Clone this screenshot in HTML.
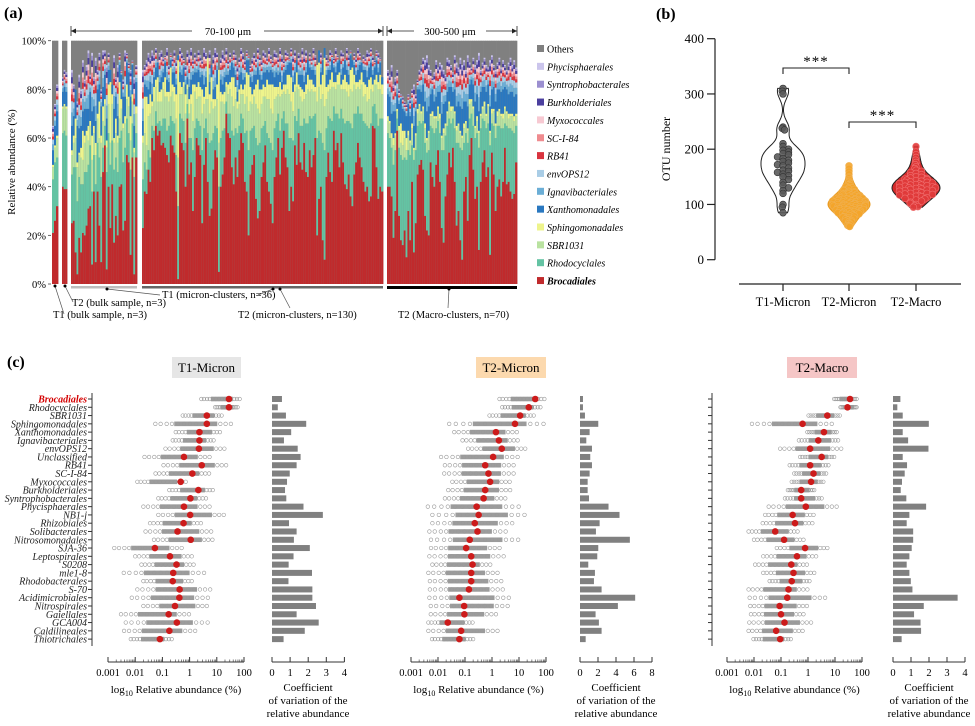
<!DOCTYPE html>
<html><head><meta charset="utf-8"><title>Figure</title>
<style>
html,body{margin:0;padding:0;background:#fff;}
svg{display:block;font-family:"Liberation Serif",serif;}
</style></head>
<body>
<svg id="fig" width="975" height="726" viewBox="0 0 975 726" xmlns="http://www.w3.org/2000/svg"></svg>
<script>
// ---------- Panel (a) data ----------
const groupSizes=[3,3,36,130,70];
const broc=[21,26,32, 40,39,39,
25,26,13,4,19,13,21,20,24,31,32,8,38,9,38,24,9,46,57,6,40,23,41,17,28,20,40,41,22,26,53,50,12,52,4,52,
23,38,37,47,42,60,55,65,61,63, 57,58,56,53,50,61,57,54,38,2, 62,58,55,40,68,45,50,30,44,60, 57,53,25,49,60,42,28,31,47,55, 52,5,40,45,52,70,62,60,48,41, 52,44,55,62,58,42,38,20,45,49, 53,35,27,30,44,50,57,42,38,33, 25,44,52,60,45,56,63,52,48,30, 40,34,57,49,62,50,47,58,46,44, 55,48,53,60,20,35,40,18,10,44, 54,46,42,63,55,58,48,62,50,41, 39,45,36,32,45,50,58,52,48,42, 38,40,34,36,65,64,48,35,40,38,
40,40,36,19,30,63,28,18,16,22, 11,30,18,42,13,25,45,49,51,47, 28,22,20,50,44,40,49,55,42,23, 17,36,45,54,48,56,42,24,30,18, 10,38,44,26,53,60,47,35,40,14, 42,50,55,44,48,12,54,45,30,40, 43,36,42,56,41,42,38,35,37,50];
const rhodo=[22,24,20, 22,24,22,
20,22,35,30,25,28,20,26,22,18,25,30,15,32,20,28,35,10,8,40,22,26,18,30,24,26,20,22,28,30,15,12,35,14,40,10,
20,12,10,8,10,5,8,6,5,4, 8,10,12,10,15,8,10,12,15,30, 8,10,12,18,6,15,10,25,20,8, 10,12,30,15,8,20,30,28,15,10, 12,35,20,18,12,5,8,10,15,20, 12,18,10,8,10,20,25,35,18,15, 12,25,30,28,20,15,10,20,22,25, 30,20,15,10,18,12,8,14,18,30, 20,25,12,18,10,15,18,10,20,22, 14,20,16,10,40,28,22,40,45,20, 15,22,25,10,15,12,20,10,18,25, 28,22,30,32,25,20,15,18,22,25, 28,25,30,30,8,10,22,30,28,30,
22,20,20,30,25,5,28,35,35,30, 40,25,35,15,38,30,20,18,15,20, 30,32,35,15,20,22,15,12,20,32, 38,25,20,14,18,12,22,34,28,38, 45,20,18,32,15,10,18,25,22,42, 22,18,12,20,18,45,12,20,30,25, 22,28,22,10,24,22,26,28,25,15];
const sbr=[5,6,8, 10,10,11,
8,10,12,14,9,11,10,12,15,10,8,13,9,12,10,8,14,11,9,10,12,9,15,11,10,12,8,9,14,10,8,11,12,9,10,8,
15,12,10,14,18,8,12,10,9,8, 10,12,9,14,10,8,12,9,15,20, 8,10,14,12,6,10,14,12,15,8, 10,12,15,10,8,14,12,16,10,8, 12,18,15,12,10,6,8,10,14,12, 12,10,9,8,10,12,14,16,12,10, 12,14,15,12,10,12,10,14,16,14, 15,12,10,8,14,10,8,12,14,18, 15,12,10,14,8,12,10,8,12,14, 10,12,10,9,15,18,14,20,18,12, 10,12,14,8,10,12,14,8,12,14, 12,10,14,15,12,10,8,10,12,10, 12,10,12,14,6,8,12,15,12,10,
5,6,4,8,6,3,7,5,6,8, 4,6,5,7,4,6,5,6,4,5, 6,5,7,4,5,6,4,5,6,5, 7,4,5,6,5,4,6,5,7,6, 5,6,4,5,6,5,7,4,5,6, 5,4,6,5,7,5,4,6,5,4, 6,5,4,6,5,4,5,6,5,4];
const sphingo=[1,1,1, 1,1,1,
2,3,8,2,1,4,12,3,2,6,2,10,3,5,2,15,3,6,2,3,8,25,4,2,6,3,15,4,2,3,6,4,10,3,2,3,
3,15,20,5,8,2,6,3,10,4, 5,3,8,2,4,12,3,6,10,40, 5,3,2,8,2,6,4,15,3,5, 6,4,10,3,5,20,8,10,4,3, 6,30,4,3,5,2,4,3,8,12, 5,3,6,4,2,8,10,15,6,4, 3,8,12,10,6,5,4,8,6,10, 12,5,4,3,6,2,3,4,6,8, 10,8,3,6,2,4,5,3,4,6, 5,4,3,2,20,10,6,8,20,5, 3,4,6,2,3,4,5,2,4,6, 4,5,8,10,4,3,2,4,5,6, 4,6,8,5,3,2,4,3,6,4,
2,1,2,3,1,1,2,8,6,3, 5,2,1,2,1,1,2,1,1,1, 2,1,1,1,2,1,1,1,2,1, 2,1,1,1,2,1,1,2,1,1, 1,2,1,1,2,1,1,1,2,1, 1,1,2,1,1,1,2,1,1,2, 1,1,2,1,1,2,1,1,2,1];
const xantho=[6,8,10, 6,7,6,
10,8,12,15,10,9,8,11,9,7,12,10,8,9,10,7,12,8,10,9,6,8,10,12,9,8,7,10,11,8,9,10,8,12,9,10,
6,5,4,6,5,3,4,5,6,4, 5,4,6,5,4,3,5,6,4,8, 4,5,6,4,3,5,6,4,5,6, 5,4,6,5,4,3,5,6,4,5, 6,8,5,4,6,3,4,5,6,4, 5,4,6,5,4,3,5,6,4,5, 6,4,5,6,4,5,6,4,5,6, 5,4,6,5,4,3,5,6,4,5, 6,4,5,6,4,5,6,4,5,6, 5,4,6,5,8,6,5,6,4,5, 6,4,5,6,4,5,6,4,5,6, 5,4,6,5,4,3,5,6,4,5, 6,4,5,6,4,5,6,4,5,6,
9,10,8,11,9,6,9,10,9,8, 9,11,10,8,9,9,8,6,8,9, 9,11,10,8,9,6,8,6,9,9, 10,9,8,6,8,6,9,8,9,10, 11,9,8,9,6,8,9,10,9,8, 9,8,6,9,8,10,8,9,9,9, 8,9,10,8,9,8,9,9,8,8];
const totalNonOthers=[65,74,82, 85,88,87,
88,82,80,75,86,80,92,84,90,96,86,95,85,93,88,95,80,96,96,90,95,88,82,94,85,90,95,88,84,96,95,91,88,92,85,90,
88,90,92,95,93,96,94,97,92,95, 96,93,94,97,90,95,93,96,92,94, 97,95,93,90,96,94,97,92,95,93, 96,94,92,97,95,93,96,90,94,97, 95,88,93,96,94,97,92,95,93,96, 94,90,93,97,95,92,96,94,90,93, 95,93,97,94,92,96,95,93,97,94, 92,96,95,93,97,94,92,96,95,93, 97,94,96,92,95,93,97,94,96,92, 95,93,97,94,90,96,95,93,97,94, 92,96,95,93,97,94,92,96,95,93, 97,94,96,92,95,93,97,95,92,94, 93,96,95,97,94,92,96,95,93,85,
88,86,90,82,85,88,80,78,77,75, 74,78,76,80,82,78,84,88,90,93, 92,94,90,88,85,87,92,89,91,90, 88,86,93,92,90,87,94,91,89,93, 90,92,88,94,91,89,93,90,92,95, 88,91,93,90,89,92,94,90,88,91, 93,89,92,90,88,91,93,90,92,89];
const yTicksA=[0,20,40,60,80,100];
const legendNames=["Others","Phycisphaerales","Syntrophobacterales","Burkholderiales","Myxococcales","SC-I-84","RB41","envOPS12","Ignavibacteriales","Xanthomonadales","Sphingomonadales","SBR1031","Rhodocyclales","Brocadiales"];

// ---------- Panel (b) data ----------
const otuCategories=["T1-Micron","T2-Micron","T2-Macro"];
const otuT1=[310,305,300,240,238,235,210,205,200,198,195,192,190,186,183,180,178,175,172,170,166,162,160,158,155,152,150,145,140,135,130,125,120,100,95,85];
const otuT2Micron=[170,165,160,155,150,148,145,142,140,138,136,135,134,132,130,130,128,127,126,125,124,123,122,121,120,120,119,118,118,117,116,115,115,114,113,113,112,112,111,111,110,110,109,109,108,108,107,107,106,106,105,105,105,104,104,103,103,102,102,101,101,100,100,100,99,99,98,98,97,97,96,96,95,95,94,94,93,93,92,92,91,91,90,90,89,89,88,88,87,87,86,86,85,85,84,84,83,82,81,80,79,78,77,76,75,74,73,72,71,70,69,68,66,65,64,62,61,60,115,110,108,106,104,102,100,98,96,94,92,90];
const otuT2Macro=[205,195,190,185,180,176,172,168,165,162,160,158,156,154,152,150,149,148,147,146,145,144,143,142,141,140,139,138,137,136,135,134,133,132,131,130,130,129,128,127,126,125,124,123,122,121,120,119,118,117,116,115,114,113,112,111,110,108,106,104,102,100,98,96,95,140,135,130,125,120];
const otuTicks=[0,100,200,300,400];

// ---------- Panel (c) data ----------
const taxa=["Brocadiales","Rhodocyclales","SBR1031","Sphingomonadales","Xanthomonadales","Ignavibacteriales","envOPS12","Unclassified","RB41","SC-I-84","Myxococcales","Burkholderiales","Syntrophobacterales","Phycisphaerales","NB1-j","Rhizobiales","Solibacterales","Nitrosomonadales","SJA-36","Leptospirales","S0208","mle1-8","Rhodobacterales","S-70","Acidimicrobiales","Nitrospirales","Gaiellales","GCA004","Caldilineales","Thiotrichales"];
const t1Mean=[28,28,4.3,4.3,2.3,2.3,2.2,0.62,2.8,1.26,0.47,2.1,1.07,0.62,1.05,0.6,0.36,1.1,0.053,0.19,0.33,0.25,0.24,0.43,0.42,0.29,0.17,0.34,0.18,0.081];
const t1Min=[2.7,8.7,0.56,0.055,0.31,0.24,0.13,0.022,0.11,0.056,0.012,0.18,0.071,0.02,0.071,0.035,0.024,0.049,0.0017,0.010,0.017,0.0038,0.02,0.012,0.0075,0.02,0.003,0.0045,0.0039,0.0069];
const t1Max=[69,58,15,33,13,7.6,19,5.4,22,5.2,0.72,7.1,4.0,5.4,18,2.6,6.2,6.9,0.51,1.2,1.4,3.4,1.2,5.7,4.7,4.3,0.95,4.6,1.6,0.22];
const t1CV=[0.55,0.32,0.77,1.89,1.06,0.66,1.42,1.58,1.36,0.98,0.83,0.72,0.79,1.74,2.81,0.94,1.36,1.21,2.09,1.19,0.92,2.21,0.91,2.23,2.23,2.43,1.36,2.58,1.81,0.64];
const t2Mean=[40,23,11,7.1,1.4,1.8,2.3,1.1,0.56,0.74,0.85,0.56,0.49,0.27,0.32,0.23,0.29,0.15,0.11,0.17,0.19,0.17,0.17,0.14,0.062,0.093,0.095,0.023,0.072,0.062];
const t2Min=[1.9,2.4,0.81,0.026,0.040,0.081,0.13,0.013,0.018,0.017,0.034,0.024,0.018,0.0042,0.0062,0.0062,0.0048,0.0055,0.0055,0.0048,0.0062,0.0044,0.005,0.005,0.0048,0.0054,0.0054,0.0044,0.0044,0.006];
const t2Max=[87,62,35,81,8.3,8.9,17,8.9,6.3,6.3,4.5,4.7,3.1,9.7,16,5.6,3.2,9.3,1.9,2.7,0.86,1.6,2.2,2.5,4.2,3.8,1.4,0.19,1.6,0.2];
const t2CV=[0.33,0.33,0.55,2.03,1.07,0.70,1.33,1.14,1.33,1.07,0.85,0.85,1.0,3.17,4.39,2.18,1.77,5.54,2.03,1.92,0.92,1.66,1.55,2.40,6.13,4.21,1.73,2.10,2.40,0.63];
const mMean=[36,29,5.2,0.63,3.9,2.4,1.2,3.2,1.2,1.6,1.3,0.56,0.56,0.83,0.27,0.33,0.061,0.13,0.78,0.39,0.24,0.29,0.25,0.19,0.17,0.089,0.1,0.135,0.066,0.093];
const mMin=[9.3,16,1.05,0.0084,0.95,0.46,0.093,0.51,0.21,0.31,0.25,0.18,0.14,0.035,0.026,0.021,0.0063,0.010,0.070,0.022,0.011,0.022,0.038,0.0063,0.0069,0.0073,0.0077,0.0067,0.0063,0.0096];
const mMax=[63,63,15,7.6,11.5,13,17,9.3,5.7,4.7,3.7,1.7,3.2,11.5,1.6,1.45,0.41,0.68,5.2,2.0,0.91,1.7,1.13,0.95,4.3,0.91,0.68,1.3,0.63,0.23];
const mCV=[0.41,0.24,0.54,1.99,0.54,0.84,1.97,0.54,0.78,0.65,0.50,0.43,0.74,1.84,0.91,0.76,1.12,1.12,1.04,0.91,0.76,0.91,0.99,1.08,3.59,1.71,1.17,1.53,1.56,0.48];
const logTickLabels=["0.001","0.01","0.1","1","10","100"];

// ---------- helpers ----------
const NS='http://www.w3.org/2000/svg';
const svg=document.getElementById('fig');
function mk(tag,attrs,parent){const e=document.createElementNS(NS,tag);for(const k in attrs)e.setAttribute(k,attrs[k]);(parent||svg).appendChild(e);return e;}
function txt(str,attrs,parent){const e=mk('text',attrs,parent);e.textContent=str;return e;}

const COL={"Others":"#808080","Phycisphaerales":"#cbc5ec","Syntrophobacterales":"#9b8fd0","Burkholderiales":"#4b3f9e","Myxococcales":"#f7c9d2","SC-I-84":"#ef8b8f","RB41":"#d9343f","envOPS12":"#a9cde6","Ignavibacteriales":"#6baed6","Xanthomonadales":"#2a78c0","Sphingomonadales":"#eef48c","SBR1031":"#b9e2a0","Rhodocyclales":"#64c3a3","Brocadiales":"#c02a2c"};

// ================= PANEL A =================
const pa=mk('g',{});


const la=txt('(a)',{x:4,y:18,'font-size':16,'font-weight':'bold'},pa);


const yA=v=>284-v*2.433;
yTicksA.forEach(t=>{
  const tl=txt(t+'%',{x:46,y:yA(t)+4,'font-size':10.5,'text-anchor':'end'},pa);
  
  
  mk('line',{x1:48,x2:51,y1:yA(t),y2:yA(t),stroke:'#444','stroke-width':0.8},pa);
});
const yta=txt('Relative abundance (%)',{x:0,y:0,'font-size':11,'text-anchor':'middle',transform:'translate(15,162) rotate(-90)'},pa);



const groupSpans=[[52,58],[62,67],[71,137],[142,383],[387,517]];
const minorOrder=[["Ignavibacteriales",0.24],["envOPS12",0.2],["RB41",0.12],["SC-I-84",0.1],["Myxococcales",0.1],["Burkholderiales",0.11],["Syntrophobacterales",0.08],["Phycisphaerales",0.05]];
const bars=mk('g',{},pa);


let idx=0;
groupSizes.forEach((n,gi)=>{
  const x0=groupSpans[gi][0],x1=groupSpans[gi][1],bw=(x1-x0)/n;
  for(let k=0;k<n;k++,idx++){
    const x=x0+k*bw;
    const gb=mk('g',{},bars);
    
    
    mk('rect',{x:x,y:yA(100),width:bw+0.35,height:yA(0)-yA(100),fill:COL.Others},gb);
    const tot=totalNonOthers[idx]||90;
    let cum=0;
    const parts=[[broc[idx]||0,"Brocadiales"],[rhodo[idx]||0,"Rhodocyclales"],[sbr[idx]||0,"SBR1031"],[sphingo[idx]||0,"Sphingomonadales"],[xantho[idx]||0,"Xanthomonadales"]];
    parts.forEach(p=>{let v=Math.min(p[0],tot-cum);if(v<=0)return;
      mk('rect',{x:x,y:yA(cum+v),width:bw+0.35,height:v*2.433,fill:COL[p[1]]},gb);cum+=v;});
    const rest=tot-cum;
    if(rest>0){minorOrder.forEach(m=>{const v=rest*m[1];
      mk('rect',{x:x,y:yA(cum+v),width:bw+0.35,height:v*2.433,fill:COL[m[0]]},gb);cum+=v;});}
  }
});
[[71,137,'#bdbdbd',2.5],[142,383,'#666',2.5],[387,517,'#000',3]].forEach(b=>{
  const r=mk('rect',{x:b[0],y:286,width:b[1]-b[0],height:b[3],fill:b[2]},pa);
  
  
});
function arrowLine(xa,xb,label,cx){
  const g=mk('g',{},pa);
  
  
  mk('line',{x1:xa,x2:cx-36,y1:31,y2:31,stroke:'#222','stroke-width':0.8},g);
  mk('line',{x1:cx+36,x2:xb,y1:31,y2:31,stroke:'#222','stroke-width':0.8},g);
  mk('path',{d:`M${xa} 31 l5 -2.5 v5z M${xb} 31 l-5 -2.5 v5z`,fill:'#222'},g);
  mk('line',{x1:xa,x2:xa,y1:26,y2:36,stroke:'#222','stroke-width':0.8},g);
  mk('line',{x1:xb,x2:xb,y1:26,y2:36,stroke:'#222','stroke-width':0.8},g);
  txt(label,{x:cx,y:35,'font-size':10.5,'text-anchor':'middle'},g);
}
arrowLine(71,383,'70-100 μm',228);
arrowLine(387,517,'300-500 μm',450);
const bl=[["T1 (micron-clusters, n=36)",162,298],["T2 (bulk sample, n=3)",72,306],["T1 (bulk sample, n=3)",53,318],["T2 (micron-clusters, n=130)",238,318],["T2 (Macro-clusters, n=70)",398,318]];
bl.forEach(b=>{const t=txt(b[0],{x:b[1],y:b[2],'font-size':10.5},pa);
  
  });
const leaders=[[107,289,160,295],[273,289,258,295],[55,286,64,314],[65,286,73,302],[280,289,290,308],[449,289,448,308]];
leaders.forEach(l=>{mk('line',{x1:l[0],y1:l[1],x2:l[2],y2:l[3],stroke:'#555','stroke-width':0.7},pa);
  mk('circle',{cx:l[0],cy:l[1],r:1.5,fill:'#000'},pa);});
legendNames.forEach((n,i)=>{
  const y=49+i*17.85;
  const g=mk('g',{},pa);
  
  
  mk('rect',{x:537,y:y-4,width:7,height:7,fill:COL[n]},g);
  txt(n,{x:547,y:y+3.5,'font-size':10,'font-style':n==='Others'?'normal':'italic','font-weight':n==='Brocadiales'?'bold':'normal'},g);
});

// ================= PANEL B =================
const pb=mk('g',{});


const lb=txt('(b)',{x:656,y:19,'font-size':16,'font-weight':'bold'},pb);


const yB=v=>259.7-v*0.5525;
const catX=[783,849,916];
const yax=mk('line',{x1:715,x2:715,y1:yB(400),y2:yB(0),stroke:'#222','stroke-width':1.2},pb);


otuTicks.forEach(t=>{mk('line',{x1:707,x2:715,y1:yB(t),y2:yB(t),stroke:'#222','stroke-width':1.2},pb);
  const tl=txt(String(t),{x:704,y:yB(t)+4.5,'font-size':13,'text-anchor':'end'},pb);
  
  });
const ytb=txt('OTU number',{x:0,y:0,'font-size':12,'text-anchor':'middle',transform:'translate(670,149) rotate(-90)'},pb);


const xax=mk('line',{x1:739,x2:961,y1:284,y2:284,stroke:'#222','stroke-width':1.2},pb);


otuCategories.forEach((c,i)=>{mk('line',{x1:catX[i],x2:catX[i],y1:284,y2:291,stroke:'#222','stroke-width':1.2},pb);
  const t=txt(c,{x:catX[i],y:306,'font-size':12.5,'text-anchor':'middle'},pb);
  
  });
const otuSets=[otuT1,otuT2Micron,otuT2Macro];
const vFill=['#ffffff','#f2a023','#d42a2a'];
const vStroke=['#222','#e89a20','#222'];
const dotFill=['#5a5a5a','#f4a52a','#e03a3a'];
const dotStroke=['#333','#f0b050','#f07070'];
const halfW=[22,21,24];
otuSets.forEach((vals,gi)=>{
  const g=mk('g',{},pb);
  
  
  const lo=Math.min(...vals),hi=Math.max(...vals),h=gi===0?13:9;
  const dens=y=>vals.reduce((s,v)=>s+Math.exp(-((y-v)*(y-v))/(2*h*h)),0);
  const ys=[];for(let y=lo;y<=hi;y+=(hi-lo)/60)ys.push(y);ys.push(hi);
  const ds=ys.map(dens),dm=Math.max(...ds);
  const wAt=y=>halfW[gi]*dens(y)/dm;
  let d='';ys.forEach((y,i)=>{d+=(i?'L':'M')+(catX[gi]+halfW[gi]*ds[i]/dm).toFixed(1)+' '+yB(y).toFixed(1);});
  for(let i=ys.length-1;i>=0;i--)d+='L'+(catX[gi]-halfW[gi]*ds[i]/dm).toFixed(1)+' '+yB(ys[i]).toFixed(1);
  mk('path',{d:d+'Z',fill:vFill[gi],stroke:vStroke[gi],'stroke-width':1},g);
  const bins={};
  vals.slice().sort((a,b)=>b-a).forEach(v=>{
    const b=Math.round(v/7);bins[b]=(bins[b]||0)+1;const j=bins[b]-1;
    let off=(j%2?1:-1)*Math.ceil(j/2)*5.5;const lim=Math.max(0,wAt(v)-3);
    if(Math.abs(off)>lim)off=((j*37)%100/100*2-1)*lim;
    const c=mk('circle',{cx:catX[gi]+off,cy:yB(v),r:3.4,fill:dotFill[gi],stroke:dotStroke[gi],'stroke-width':0.6,'fill-opacity':0.9},g);
    
    
  });
});
function bracket(xa,xb,y){const g=mk('g',{},pb);
  
  
  mk('path',{d:`M${xa} ${y+6}V${y}H${xb}V${y+6}`,fill:'none',stroke:'#222','stroke-width':1.1},g);
  txt('***',{x:(xa+xb)/2,y:y-2,'font-size':15,'text-anchor':'middle','letter-spacing':'1'},g);}
bracket(783,849,68);
bracket(849,916,122);

// ================= PANEL C =================
const pc=mk('g',{});


const lc=txt('(c)',{x:7,y:367,'font-size':16,'font-weight':'bold'},pc);


const rowY=i=>399+i*8.28;
taxa.forEach((t,i)=>{const e=txt(t,{x:87,y:rowY(i)+3.5,'font-size':10,'font-style':'italic','text-anchor':'end',fill:i===0?'#d40000':'#222','font-weight':i===0?'bold':'normal'},pc);
  
  });
const panels=[
 {name:'t1-micron',mean:t1Mean,min:t1Min,max:t1Max,cv:t1CV,lx0:108,lx1:244,cv0:272,cvu:18.1,cvTicks:[0,1,2,3,4],axisX:92,hx:172,hw:69,hfill:'#e6e6e6',title:'T1-Micron'},
 {name:'t2-micron',mean:t2Mean,min:t2Min,max:t2Max,cv:t2CV,lx0:411,lx1:546,cv0:580,cvu:9,cvTicks:[0,2,4,6,8],axisX:null,hx:476,hw:70,hfill:'#fcd9ae',title:'T2-Micron'},
 {name:'t2-macro',mean:mMean,min:mMin,max:mMax,cv:mCV,lx0:727,lx1:862,cv0:893,cvu:18,cvTicks:[0,1,2,3,4],axisX:712,hx:787,hw:70,hfill:'#f5c6c6',title:'T2-Macro'}];
panels.forEach(P=>{
  const g=mk('g',{},pc);
  
  
  const dec=(P.lx1-P.lx0)/5;
  const xL=v=>P.lx0+(Math.log10(v)+3)*dec;
  const xC=v=>P.cv0+v*P.cvu;
  const hb=mk('rect',{x:P.hx,y:357,width:P.hw,height:21,fill:P.hfill},g);
  
  
  txt(P.title,{x:P.hx+P.hw/2,y:372,'font-size':13,'text-anchor':'middle'},g);
  if(P.axisX){mk('line',{x1:P.axisX,x2:P.axisX,y1:393,y2:646,stroke:'#333','stroke-width':1},g);
    taxa.forEach((t,i)=>mk('line',{x1:P.axisX-4,x2:P.axisX,y1:rowY(i),y2:rowY(i),stroke:'#333','stroke-width':1},g));}
  taxa.forEach((t,i)=>{
    const y=rowY(i);
    const rg=mk('g',{},g);
    
    
    const l0=Math.log10(P.min[i]),l1=Math.log10(P.max[i]),span=l1-l0;
    const at=f=>xL(Math.pow(10,l0+f*span));
    mk('rect',{x:at(0.25),y:y-2.3,width:at(0.82)-at(0.25),height:4.6,fill:'#9c9c9c'},rg);
    [0,0.07,0.15,0.22,0.3,0.38,0.46,0.54,0.62,0.7,0.78,0.86,0.93,1].forEach(f=>
      mk('circle',{cx:at(f),cy:y,r:1.8,fill:'none',stroke:'#999','stroke-width':0.6},rg));
    const md=mk('circle',{cx:xL(P.mean[i]),cy:y,r:3.3,fill:'#cc1b1b'},rg);
    
    
    const cb=mk('rect',{x:P.cv0,y:y-3,width:xC(P.cv[i])-P.cv0,height:6,fill:'#808080'},g);
    
    
  });
  const ax=mk('g',{},g);
  
  
  mk('line',{x1:P.lx0,x2:P.lx1,y1:662,y2:662,stroke:'#333','stroke-width':1},ax);
  logTickLabels.forEach((lab,k)=>{const x=P.lx0+k*dec;
    mk('line',{x1:x,x2:x,y1:657,y2:662,stroke:'#333','stroke-width':1},ax);
    txt(lab,{x:x,y:676,'font-size':10.5,'text-anchor':'middle'},ax);
    if(k<5)for(let m=2;m<10;m++){const xm=x+Math.log10(m)*dec;mk('line',{x1:xm,x2:xm,y1:659.5,y2:662,stroke:'#333','stroke-width':0.6},ax);}});
  const lt=mk('text',{x:(P.lx0+P.lx1)/2,y:693,'font-size':11,'text-anchor':'middle'},ax);
  const s1=document.createElementNS(NS,'tspan');s1.textContent='log';lt.appendChild(s1);
  const s2=document.createElementNS(NS,'tspan');s2.setAttribute('font-size','8');s2.setAttribute('dy','3');s2.textContent='10';lt.appendChild(s2);
  const s3=document.createElementNS(NS,'tspan');s3.setAttribute('dy','-3');s3.textContent=' Relative abundance (%)';lt.appendChild(s3);
  const cx=mk('g',{},g);
  
  
  const cvEnd=xC(P.cvTicks[P.cvTicks.length-1]);
  mk('line',{x1:P.cv0,x2:cvEnd,y1:662,y2:662,stroke:'#333','stroke-width':1},cx);
  P.cvTicks.forEach(t=>{const x=xC(t);mk('line',{x1:x,x2:x,y1:657,y2:662,stroke:'#333','stroke-width':1},cx);
    txt(String(t),{x:x,y:676,'font-size':10.5,'text-anchor':'middle'},cx);});
  const c0=P.cv0+36;
  ['Coefficient','of variation of the','relative abundance'].forEach((s,k)=>txt(s,{x:c0,y:691+k*13,'font-size':11,'text-anchor':'middle'},cx));
});
</script>
</body></html>
